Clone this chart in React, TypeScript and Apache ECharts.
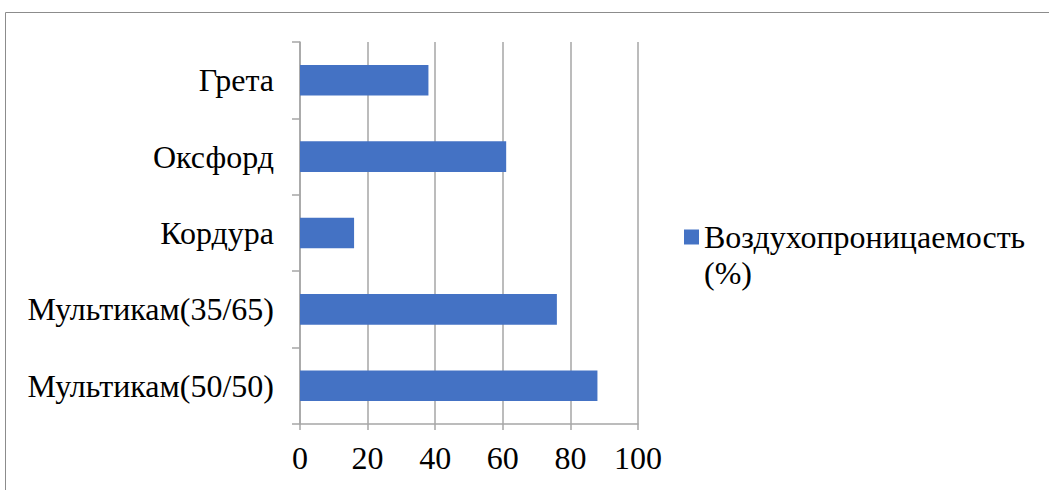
import React, { useEffect, useRef } from "react";
import * as echarts from "echarts";

const categories = ["Мультикам(50/50)", "Мультикам(35/65)", "Кордура", "Оксфорд", "Грета"];
const values = [88, 76, 16, 61, 38];
const seriesName = "Воздухопроницаемость (%)";
const xTicks = { min: 0, max: 100, interval: 20 };

const FONT = "Liberation Serif";

export default function App() {
  const ref = useRef<HTMLDivElement>(null);
  useEffect(() => {
    document.body.style.margin = "0";
    const chart = echarts.init(ref.current!, null, { renderer: "svg" });
    chart.setOption({
      animation: false,
      backgroundColor: "#ffffff",
      textStyle: { fontFamily: FONT },
      graphic: [
        {
          type: "rect",
          shape: { x: 5.5, y: 12.5, width: 1100, height: 500 },
          style: { fill: "none", stroke: "#8c8c8c", lineWidth: 1 },
          silent: true,
        },
      ],
      grid: { left: 300, top: 42, width: 338, height: 382, containLabel: false },
      legend: {
        left: 679,
        top: 178,
        orient: "vertical",
        itemWidth: 15,
        itemHeight: 15,
        icon: "rect",
        data: [seriesName],
        formatter: () => " \nВоздухопроницаемость\n(%)",
        textStyle: {
          fontFamily: FONT,
          fontSize: 32,
          color: "#000",
          lineHeight: 36,
        },
      },
      xAxis: {
        type: "value",
        min: xTicks.min,
        max: xTicks.max,
        interval: xTicks.interval,
        axisLine: { show: true, lineStyle: { color: "#a6a6a6", width: 1.5 } },
        axisTick: { show: true, length: 6, lineStyle: { color: "#a6a6a6", width: 1.5 } },
        splitLine: { show: true, lineStyle: { color: "#a6a6a6", width: 1.5 } },
        axisLabel: { fontFamily: FONT, fontSize: 32, color: "#000", margin: 18 },
      },
      yAxis: {
        type: "category",
        data: categories,
        axisLine: { show: true, lineStyle: { color: "#a6a6a6", width: 1.5 } },
        axisTick: { show: true, length: 8, alignWithLabel: false, lineStyle: { color: "#a6a6a6", width: 1.5 } },
        axisLabel: { fontFamily: FONT, fontSize: 32, color: "#000", margin: 26 },
      },
      series: [
        {
          name: seriesName,
          type: "bar",
          data: values,
          barCategoryGap: "60%",
          itemStyle: { color: "#4472C4" },
        },
      ],
    });
    return () => chart.dispose();
  }, []);
  return <div ref={ref} style={{ width: 1049, height: 490 }} />;
}
